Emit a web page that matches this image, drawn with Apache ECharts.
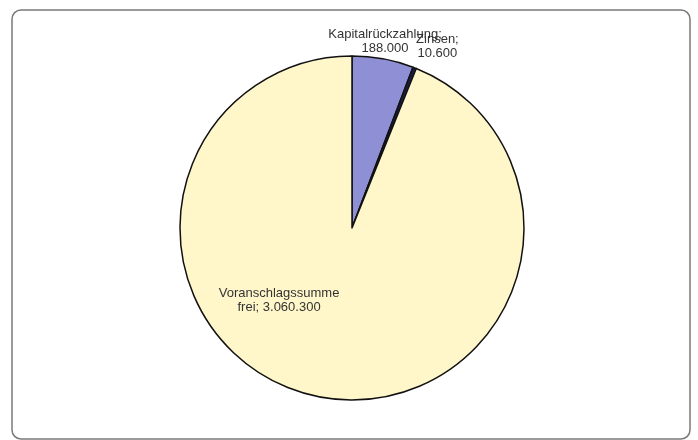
<!DOCTYPE html>
<html>
<head>
<meta charset="utf-8">
<script src="https://cdn.jsdelivr.net/npm/echarts@6/dist/echarts.min.js"></script>
<style>
html,body{margin:0;padding:0;background:#fff;}
#chart{width:698px;height:440px;}
</style>
</head>
<body>
<div id="chart"></div>
<script>
const categories = ['Kapitalrückzahlung', 'Zinsen', 'Voranschlagssumme frei'];
const labelTexts = ['Kapitalrückzahlung;\n188.000', 'Zinsen;\n10.600', 'Voranschlagssumme\nfrei; 3.060.300'];
const values = [188000, 10600, 3060300];
const colors = ['#8f8fd6', '#1c1c4a', '#fff7c9'];
const labelOffsets = [[17, -99], [53, -99], [-56, -15]];

const chart = echarts.init(document.getElementById('chart'));
chart.setOption({
  animation: false,
  backgroundColor: '#ffffff',
  graphic: [{
    type: 'rect',
    shape: { x: 12, y: 10, width: 678, height: 429, r: 9 },
    style: { fill: 'none', stroke: '#7a7a7a', lineWidth: 1.5 },
    silent: true
  }],
  series: [{
    type: 'pie',
    center: [352, 228],
    radius: 172,
    startAngle: 90,
    clockwise: true,
    avoidLabelOverlap: false,
    labelLayout: { hideOverlap: false },
    itemStyle: { borderColor: '#111111', borderWidth: 1.5 },
    labelLine: { show: false },
    label: {
      show: true,
      position: 'inside',
      color: '#333333',
      fontFamily: 'Liberation Sans, Arial, sans-serif',
      fontSize: 13,
      lineHeight: 14,
      align: 'center',
      formatter: p => labelTexts[p.dataIndex]
    },
    data: categories.map((c, i) => ({
      name: c,
      value: values[i],
      itemStyle: { color: colors[i] },
      label: { offset: labelOffsets[i] }
    }))
  }]
});
</script>
</body>
</html>
